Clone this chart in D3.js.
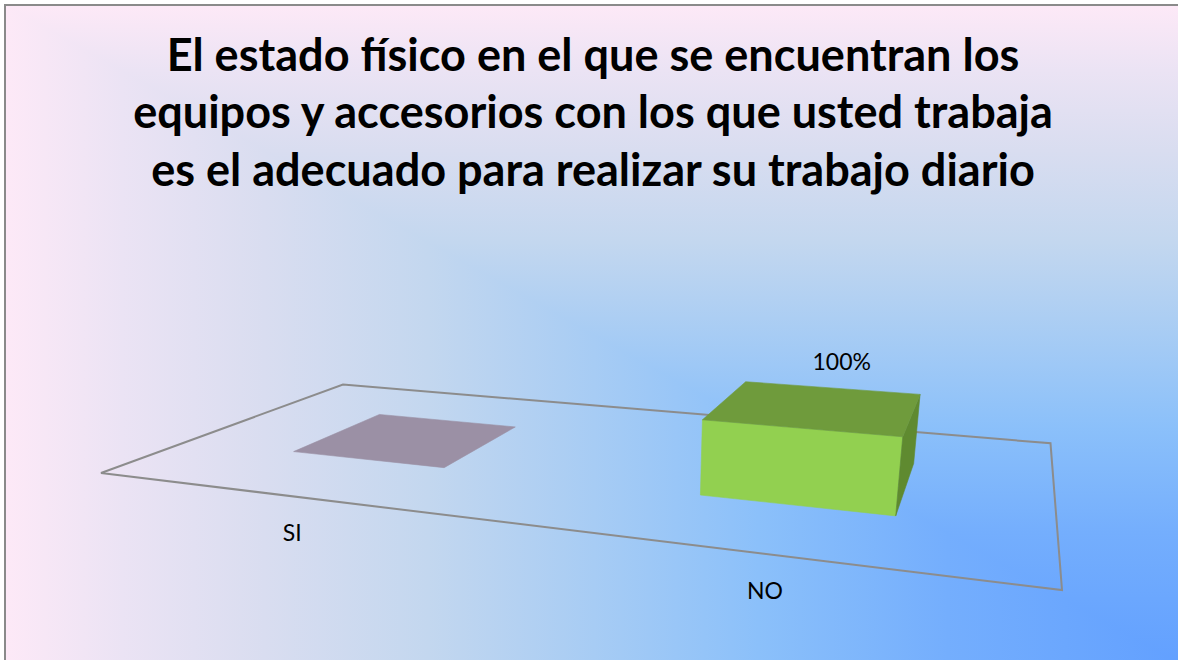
<!DOCTYPE html>
<html>
<head>
<meta charset="utf-8">
<script src="https://cdn.jsdelivr.net/npm/d3@7"></script>
<style>
  html, body { margin: 0; padding: 0; background: #ffffff; }
  svg { display: block; }
</style>
</head>
<body>
<svg id="chart" width="1178" height="660"></svg>
<script>
// ---- data -------------------------------------------------------------
const titleLines = [
  "El estado físico en el que se encuentran los",
  "equipos y accesorios con los que usted trabaja",
  "es el adecuado para realizar su trabajo diario"
];
const categories = ["SI", "NO"];
const values = [0, 1];                 // share of answers (1 = 100%)
const showValueLabel = [false, true];
const frontColors = ["#c9bcd8", "#92d050"];
const topColors   = ["#9b90a5", "#6f9b3c"];
const sideColors  = ["#877d90", "#5f8a30"];

// ---- layout -----------------------------------------------------------
const W = 1178, H = 660;
const frame = { x: 5, y: 5, w: 1178, h: 660 };

// Floor of the 3-D plot in screen space: (u,v) = (0,0),(1,0),(1,1),(0,1)
const floorQuad = [[101, 473], [1062, 590], [1050.5, 443.3], [343, 384.5]];
// Vanishing point of vertical edges and height gain of the camera
const verticalVP = [615, 3673];
const heightGain = -0.02175;

// Square-to-quad projective map
function squareToQuad(q) {
  const [[x0, y0], [x1, y1], [x2, y2], [x3, y3]] = q;
  const sx = x0 - x1 + x2 - x3, sy = y0 - y1 + y2 - y3;
  const dx1 = x1 - x2, dx2 = x3 - x2, dy1 = y1 - y2, dy2 = y3 - y2;
  const det = dx1 * dy2 - dx2 * dy1;
  const g = (sx * dy2 - dx2 * sy) / det;
  const h = (dx1 * sy - sx * dy1) / det;
  return {
    a: x1 - x0 + g * x1, b: x3 - x0 + h * x3, c: x0,
    d: y1 - y0 + g * y1, e: y3 - y0 + h * y3, f: y0,
    g, h
  };
}
const P = squareToQuad(floorQuad);

// World (u across, y up, v into depth) -> screen
function project(u, y, v) {
  const k = heightGain * y;
  const w = P.g * u + P.h * v + 1 + k;
  return [
    (P.a * u + P.b * v + P.c + k * verticalVP[0]) / w,
    (P.d * u + P.e * v + P.f + k * verticalVP[1]) / w
  ];
}

// Scales
const uScale = d3.scaleBand().domain(categories).range([0, 1])
  .paddingInner(0.6).paddingOuter(0.3);
const vScale = d3.scaleBand().domain(["serie"]).range([0, 1])
  .paddingInner(0.6).paddingOuter(0.3);
const yScale = d3.scaleLinear().domain([0, 1]).range([0, 1]);
const pct = d3.format(".0%");

const svg = d3.select("#chart");
const defs = svg.append("defs");

// ---- background: rectangular gradient from the bottom-right corner ----
const stops = [
  [0.00, "#62a0ff"], [0.20, "#74aefd"], [0.36, "#8bc0fa"], [0.50, "#a7ccf4"],
  [0.64, "#c3d7ef"], [0.78, "#d9ddf0"], [0.90, "#ebe3f4"], [1.00, "#fde9f7"]
];
function addGrad(id, x1, y1, x2, y2) {
  const gr = defs.append("linearGradient").attr("id", id)
    .attr("gradientUnits", "userSpaceOnUse")
    .attr("x1", x1).attr("y1", y1).attr("x2", x2).attr("y2", y2);
  stops.forEach(([o, c]) => gr.append("stop").attr("offset", o).attr("stop-color", c));
}
const R = frame.x + frame.w, B = frame.y + frame.h;
addGrad("bgH", R, 0, frame.x, 0);
addGrad("bgV", 0, B, 0, frame.y);

svg.append("rect").attr("x", frame.x).attr("y", frame.y)
  .attr("width", frame.w).attr("height", frame.h).attr("fill", "url(#bgH)");
svg.append("polygon")
  .attr("points", [[frame.x, frame.y], [R, frame.y], [R, B]].map(p => p.join(",")).join(" "))
  .attr("fill", "url(#bgV)");
svg.append("rect").attr("x", frame.x).attr("y", frame.y)
  .attr("width", frame.w).attr("height", frame.h)
  .attr("fill", "none").attr("stroke", "#8a8a8a").attr("stroke-width", 2);

// ---- title ------------------------------------------------------------
const title = svg.append("g").attr("font-family", "Lato, 'Open Sans', sans-serif")
  .attr("font-weight", "bold").attr("fill", "#000");
const probe = title.append("text").attr("font-size", 40).text(titleLines[1]);
const titleSize = 40 * 920 / probe.node().getComputedTextLength();
probe.remove();
titleLines.forEach((t, i) => {
  title.append("text")
    .attr("x", 593).attr("y", 70.5 + i * 57.5)
    .attr("text-anchor", "middle")
    .attr("font-size", titleSize)
    .text(t);
});

// ---- floor ------------------------------------------------------------
const floorPts = [[0, 0], [1, 0], [1, 1], [0, 1]].map(([u, v]) => project(u, 0, v));
svg.append("polygon")
  .attr("points", floorPts.map(p => p.join(",")).join(" "))
  .attr("fill", "none").attr("stroke", "#8c8c8c").attr("stroke-width", 2)
  .attr("stroke-linejoin", "miter");

// ---- columns ----------------------------------------------------------
function signedArea(pts) {
  let s = 0;
  for (let i = 0; i < pts.length; i++) {
    const [x1, y1] = pts[i], [x2, y2] = pts[(i + 1) % pts.length];
    s += x1 * y2 - x2 * y1;
  }
  return s / 2;
}

const bars = svg.append("g");
categories.forEach((cat, i) => {
  const u0 = uScale(cat), u1 = u0 + uScale.bandwidth();
  const v0 = vScale("serie"), v1 = v0 + vScale.bandwidth();
  const y1 = yScale(values[i]);
  // faces listed counter-clockwise as seen from outside the box
  const faces = [
    { pts: [[u0, 0, v0], [u1, 0, v0], [u1, y1, v0], [u0, y1, v0]], fill: frontColors[i] },
    { pts: [[u1, 0, v0], [u1, 0, v1], [u1, y1, v1], [u1, y1, v0]], fill: sideColors[i] },
    { pts: [[u0, 0, v1], [u0, 0, v0], [u0, y1, v0], [u0, y1, v1]], fill: sideColors[i] },
    { pts: [[u0, y1, v0], [u1, y1, v0], [u1, y1, v1], [u0, y1, v1]], fill: topColors[i] }
  ];
  faces.forEach(f => {
    const sp = f.pts.map(([u, y, v]) => project(u, y, v));
    if (signedArea(sp) < -0.5) {
      bars.append("polygon")
        .attr("points", sp.map(p => p.join(",")).join(" "))
        .attr("fill", f.fill)
        .attr("stroke", f.fill).attr("stroke-width", 0.6)
        .attr("stroke-linejoin", "round");
    }
  });

  if (showValueLabel[i]) {
    const [lx, ly] = project(u0 + uScale.bandwidth() / 2, y1, v1);
    svg.append("text")
      .attr("x", lx + 11).attr("y", ly - 18)
      .attr("text-anchor", "middle")
      .attr("font-family", "Lato, 'Open Sans', sans-serif")
      .attr("font-size", 23).attr("fill", "#000")
      .text(pct(values[i]));
  }
});

// ---- category labels --------------------------------------------------
categories.forEach(cat => {
  const [cx, cy] = project(uScale(cat) + uScale.bandwidth() / 2, 0, 0);
  svg.append("text")
    .attr("x", cx).attr("y", cy + 45)
    .attr("text-anchor", "middle")
    .attr("font-family", "Lato, 'Open Sans', sans-serif")
    .attr("font-size", 23).attr("fill", "#000")
    .text(cat);
});
</script>
</body>
</html>
